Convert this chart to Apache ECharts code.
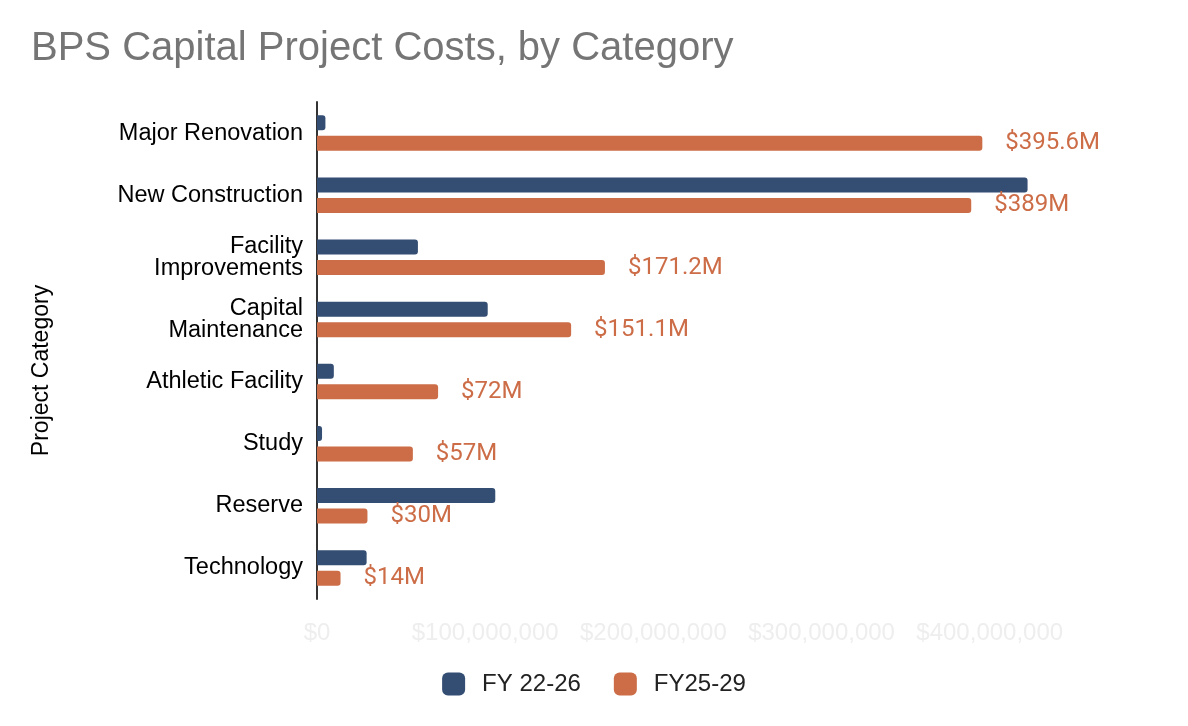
<!DOCTYPE html>
<html>
<head>
<meta charset="utf-8">
<script src="https://cdn.jsdelivr.net/npm/echarts@6/dist/echarts.min.js"></script>
<style>
	html, body { margin: 0; padding: 0; background: #fff; }
	#chart { width: 1188px; height: 726px; }
</style>
</head>
<body>
<div id="chart"></div>
<script>
const categories = ['Major Renovation', 'New Construction', 'Facility\nImprovements', 'Capital\nMaintenance', 'Athletic Facility', 'Study', 'Reserve', 'Technology']
const fy2226 = [5, 422.5, 60, 101.5, 10, 3, 106, 29.5]
const fy2529 = [395.6, 389, 171.2, 151.1, 72, 57, 30, 14]
const seriesNames = ['FY 22-26', 'FY25-29']

const chart = echarts.init(document.getElementById('chart'))

chart.setOption({
	animation: false,
	title: {
		text: 'BPS Capital Project Costs, by Category',
		left: 26, top: 24,
		textStyle: { fontFamily: 'Liberation Sans', fontSize: 40, fontWeight: 'normal', color: '#757575' },
	},
	legend: {
		data: seriesNames,
		bottom: 25, left: 'center',
		itemWidth: 23, itemHeight: 23, itemGap: 33,
		icon: 'roundRect',
		textStyle: { fontFamily: 'Liberation Sans', fontSize: 24, color: '#222', padding: [0, 0, 0, 12] },
	},
	grid: { left: 317, top: 102, height: 497, width: 740 },
	xAxis: {
		type: 'value',
		min: 0, max: 440, interval: 100,
		splitLine: { show: false },
		axisLine: { show: false },
		axisTick: { show: false },
		axisLabel: {
			showMaxLabel: false,
			margin: 22,
			fontFamily: 'Liberation Sans', fontSize: 24, color: '#eeeeee',
			formatter: v => '$' + (v * 1000000).toLocaleString('en-US'),
		},
	},
	yAxis: {
		type: 'category',
		data: categories,
		inverse: true,
		name: 'Project Category',
		nameLocation: 'middle',
		nameGap: 264,
		nameRotate: 90,
		nameTextStyle: { fontFamily: 'Liberation Sans', fontSize: 23, color: '#000', padding: [0, 40, 0, 0] },
		axisLine: { show: true, lineStyle: { color: '#333', width: 2 } },
		axisTick: { show: false },
		axisLabel: { margin: 14, fontFamily: 'Liberation Sans', fontSize: 23.5, color: '#000', lineHeight: 22 },
	},
	series: [
		{
			name: seriesNames[0],
			type: 'bar',
			data: fy2226,
			barWidth: 15,
			barGap: '36%',
			itemStyle: { color: '#334d73', borderRadius: [0, 3, 3, 0] },
		},
		{
			name: seriesNames[1],
			type: 'bar',
			data: fy2529,
			barWidth: 15,
			itemStyle: { color: '#cc6d47', borderRadius: [0, 3, 3, 0] },
			label: {
				show: true, position: 'right', distance: 23,
				fontFamily: 'Roboto', fontSize: 24, color: '#cc6d47',
				formatter: p => '$' + p.value + 'M',
			},
		},
	],
})
</script>
</body>
</html>
